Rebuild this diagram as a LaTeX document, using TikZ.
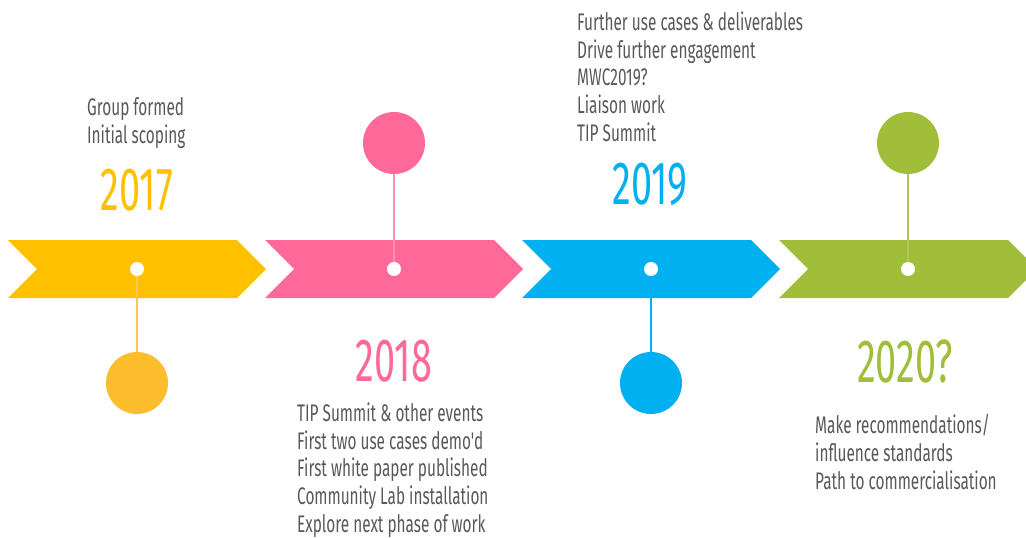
\documentclass[tikz,border=0pt]{standalone}
\usepackage{fontspec}
\usepackage{tikz}

\newfontfamily\listfont{Fira Sans}[FakeStretch=0.64]
\newfontfamily\yearfont{Fira Sans}[FakeStretch=0.62]

\definecolor{cyel}{HTML}{FFC000}
\definecolor{cyelball}{HTML}{FDBE2E}
\definecolor{cpink}{HTML}{FF6999}
\definecolor{cblue}{HTML}{00B0F0}
\definecolor{cgreen}{HTML}{A1BE3A}
\definecolor{txtgray}{HTML}{595959}

\begin{document}
\begin{tikzpicture}[x=1pt,y=-1pt,
		dot/.style={circle,fill=white,minimum size=14pt,inner sep=0pt},
		ball/.style={circle,minimum size=62pt,inner sep=0pt},
		year/.style={font=\yearfont\fontsize{61}{61}\selectfont,inner sep=0pt,anchor=base},
		items/.style={font=\listfont\fontsize{24}{27.6}\selectfont,text=txtgray,align=left,inner sep=0pt,anchor=base west}]
			\useasboundingbox (0,0) rectangle (1026,538);
			\clip (0,0) rectangle (1026,538);
			\foreach \i/\col in {0/cyel,1/cpink,2/cblue,3/cgreen}
				\fill[\col] ({8+257*\i},240) -- ++(229,0) -- ++(29,29) -- ++(-29,29) -- ++(-229,0) -- ++(29,-29) -- cycle;
			\node[dot] (d17) at (137,269) {};
			\node[dot] (d18) at (394,269) {};
			\node[dot] (d19) at (651,269) {};
			\node[dot] (d20) at (908,269) {};
			\node[ball, fill=cyelball] (b17) at (137,383) {};
			\node[ball, fill=cpink] (b18) at (394,143) {};
			\node[ball, fill=cblue] (b19) at (651,383) {};
			\node[ball, fill=cgreen] (b20) at (908,143) {};
			\draw[cyelball!85!white, line width=1.5pt] (d17) -- (b17);
			\draw[cpink!75!white, line width=1.5pt] (d18) -- (b18);
			\draw[cblue, line width=1.5pt] (d19) -- (b19);
			\draw[cgreen!85!white, line width=1.5pt] (d20) -- (b20);
			\node[year, text=cyel] (y17) at (137,210) {2017};
			\node[year, text=cpink] (y18) at (394,381) {2018};
			\node[year, text=cblue] (y19) at (650,204) {2019};
			\node[year, text=cgreen] (y20) at (905,382) {2020?};
			\node[items] (t17) at (87,143) {Group formed\\Initial scoping};
			\node[items] (t18) at (297,532) {TIP Summit \& other events\\First two use cases demo'd\\First white paper published\\Community Lab installation\\Explore next phase of work};
			\node[items] (t19) at (577,141) {Further use cases \& deliverables\\Drive further engagement\\MWC2019?\\Liaison work\\TIP Summit};
			\node[items] (t20) at (815,489) {Make recommendations/\\influence standards\\Path to commercialisation};
		\end{tikzpicture}
\end{document}
